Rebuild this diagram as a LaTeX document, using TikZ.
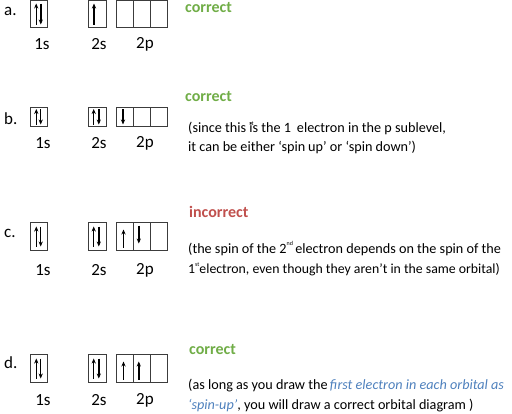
\documentclass[tikz,border=0pt]{standalone}
\usepackage{fontspec}
\setmainfont{Carlito}
\usetikzlibrary{arrows.meta}
\definecolor{okgreen}{RGB}{112,173,71}
\definecolor{badred}{RGB}{192,80,77}
\definecolor{noteblue}{RGB}{79,129,189}
\definecolor{boxgray}{RGB}{60,60,60}
\begin{document}
\begin{tikzpicture}[x=1pt,y=-1pt,
  orb/.style={draw=boxgray, line width=1pt, inner sep=0pt, minimum width=#1},
  orb/.default=17pt,
  el/.style={line width=1.4pt, -{Stealth[length=5pt,width=4.2pt]}},
  rowlab/.style={font=\fontsize{17}{17}\selectfont, anchor=west, inner sep=0pt},
  sublab/.style={font=\fontsize{17}{17}\selectfont, inner sep=0pt},
  verdict/.style={font=\fontsize{16}{16}\selectfont\bfseries, anchor=west, inner sep=0pt},
  note/.style={font=\fontsize{14.2}{14.2}\selectfont, anchor=base west, inner sep=0pt}
]
\useasboundingbox (0,0) rectangle (512,413);

% ---------- row a ----------
\node[rowlab] (la) at (4,11) {a.};
\node[orb=17pt, minimum height=27pt] (a1s) at (38.5,13.5) {};
\node[orb=18pt, minimum height=27pt] (a2s) at (97,13.5) {};
\node[orb, minimum height=27pt] (a2px) at (124.5,13.5) {};
\node[orb, minimum height=27pt] (a2py) at (141.5,13.5) {};
\node[orb, minimum height=27pt] (a2pz) at (158.5,13.5) {};
\draw[el] ([xshift=-2.3pt,yshift=3pt]a1s.south) -- ([xshift=-2.3pt,yshift=-4pt]a1s.north);
\draw[el] ([xshift=2.3pt,yshift=-4pt]a1s.north) -- ([xshift=2.3pt,yshift=3pt]a1s.south);
\draw[el] ([xshift=-3pt,yshift=3pt]a2s.south) -- ([xshift=-3pt,yshift=-4pt]a2s.north);
\node[sublab] (ta1) at (42,44) {1s};
\node[sublab] (ta2) at (99,44) {2s};
\node[sublab] (ta3) at (145,44) {2p};
\node[verdict, text=okgreen] (va) at (185,8) {correct};

% ---------- row b ----------
\node[rowlab] (lb) at (4,119) {b.};
\node[orb=17pt, minimum height=19pt] (b1s) at (38.5,116.5) {};
\node[orb=18pt, minimum height=19pt] (b2s) at (97,116.5) {};
\node[orb, minimum height=19pt] (b2px) at (124.5,116.5) {};
\node[orb, minimum height=19pt] (b2py) at (141.5,116.5) {};
\node[orb, minimum height=19pt] (b2pz) at (158.5,116.5) {};
\draw[el] ([xshift=-2.2pt,yshift=2pt]b1s.south) -- ([xshift=-2.2pt,yshift=-2.5pt]b1s.north);
\draw[el] ([xshift=2.2pt,yshift=-2.5pt]b1s.north) -- ([xshift=2.2pt,yshift=2pt]b1s.south);
\draw[el] ([xshift=-3.3pt,yshift=2pt]b2s.south) -- ([xshift=-3.3pt,yshift=-2.5pt]b2s.north);
\draw[el] ([xshift=1.8pt,yshift=-2.5pt]b2s.north) -- ([xshift=1.8pt,yshift=2pt]b2s.south);
\draw[el] ([xshift=-1.5pt,yshift=-2.5pt]b2px.north) -- ([xshift=-1.5pt,yshift=2pt]b2px.south);
\node[sublab] (tb1) at (43,143) {1s};
\node[sublab] (tb2) at (99,143) {2s};
\node[sublab] (tb3) at (145,143) {2p};
\node[verdict, text=okgreen] (vb) at (185,97) {correct};
\node[note] (nb1) at (188,132) {(since this \rlap{\raisebox{0.9ex}{\fontsize{6}{6}\selectfont st}}is the 1\hspace{6pt}electron in the p sublevel,};
\node[note] (nb2) at (188,151) {it can be either ‘spin\hspace{3pt}up’ or ‘spin down’)};

% ---------- row c ----------
\node[rowlab] (lc) at (4,233) {c.};
\node[orb=17pt, minimum height=28pt] (c1s) at (38.5,236) {};
\node[orb=18pt, minimum height=28pt] (c2s) at (97,236) {};
\node[orb, minimum height=28pt] (c2px) at (124.5,236) {};
\node[orb, minimum height=28pt] (c2py) at (141.5,236) {};
\node[orb, minimum height=28pt] (c2pz) at (158.5,236) {};
\draw[el] ([xshift=-2.2pt,yshift=4pt]c1s.south) -- ([xshift=-2.2pt,yshift=-5pt]c1s.north);
\draw[el] ([xshift=2.2pt,yshift=-5pt]c1s.north) -- ([xshift=2.2pt,yshift=4pt]c1s.south);
\draw[el] ([xshift=-3.3pt,yshift=4pt]c2s.south) -- ([xshift=-3.3pt,yshift=-5pt]c2s.north);
\draw[el] ([xshift=1.8pt,yshift=-5pt]c2s.north) -- ([xshift=1.8pt,yshift=4pt]c2s.south);
\draw[el] ([xshift=-1pt,yshift=3pt]c2px.south) -- ([xshift=-1pt,yshift=-8pt]c2px.north);
\draw[el] ([xshift=-2.7pt,yshift=-4pt]c2py.north) -- ([xshift=-2.7pt,yshift=7pt]c2py.south);
\node[sublab] (tc1) at (43,270) {1s};
\node[sublab] (tc2) at (99,270) {2s};
\node[sublab] (tc3) at (145,270) {2p};
\node[verdict, text=badred] (vc) at (189,212) {incorrect};
\node[note] (nc1) at (188,253) {(the spin of the 2\raisebox{1.1ex}{\fontsize{6}{6}\selectfont nd}\,electron depends on the spin of the};
\node[note, font=\fontsize{13.8}{13.8}\selectfont] (nc2) at (188,273) {1\raisebox{1ex}{\fontsize{6}{6}\selectfont st}electron, even though they aren’t in the same orbital)};

% ---------- row d ----------
\node[rowlab] (ld) at (4,363) {d.};
\node[orb=17pt, minimum height=28pt] (d1s) at (38.5,368) {};
\node[orb=18pt, minimum height=28pt] (d2s) at (97,368) {};
\node[orb, minimum height=28pt] (d2px) at (124.5,368) {};
\node[orb, minimum height=28pt] (d2py) at (141.5,368) {};
\node[orb, minimum height=28pt] (d2pz) at (158.5,368) {};
\draw[el] ([xshift=-2.2pt,yshift=4pt]d1s.south) -- ([xshift=-2.2pt,yshift=-5pt]d1s.north);
\draw[el] ([xshift=2.2pt,yshift=-5pt]d1s.north) -- ([xshift=2.2pt,yshift=4pt]d1s.south);
\draw[el] ([xshift=-3.3pt,yshift=4pt]d2s.south) -- ([xshift=-3.3pt,yshift=-5pt]d2s.north);
\draw[el] ([xshift=1.8pt,yshift=-5pt]d2s.north) -- ([xshift=1.8pt,yshift=4pt]d2s.south);
\draw[el] ([xshift=-1pt,yshift=3pt]d2px.south) -- ([xshift=-1pt,yshift=-8pt]d2px.north);
\draw[el] ([xshift=-2.7pt,yshift=3pt]d2py.south) -- ([xshift=-2.7pt,yshift=-8pt]d2py.north);
\node[sublab] (td1) at (43,400) {1s};
\node[sublab] (td2) at (99,400) {2s};
\node[sublab] (td3) at (145,400) {2p};
\node[verdict, text=okgreen] (vd) at (189,350) {correct};
\node[note] (nd1) at (188,389) {(as long as you draw the\,{\itshape\color{noteblue}first electron in each orbital as}};
\node[note] (nd2) at (188,409) {{\itshape\color{noteblue}‘spin-up’}, you will draw a correct orbital diagram )};
\end{tikzpicture}
\end{document}
